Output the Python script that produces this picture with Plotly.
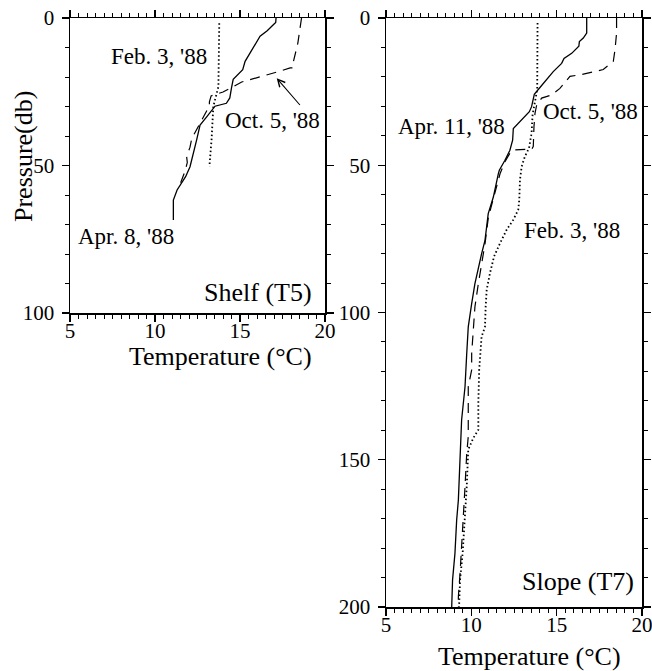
import plotly.graph_objects as go

# ---------------- data ----------------
# Shelf (T5)
shelf_apr_T = [17.12, 17.1, 16.96, 16.6, 16.18, 15.7, 15.3, 15.16, 14.85, 14.6, 14.5, 14.4, 14.2,
               13.53, 13.04, 12.65, 12.45, 12.2, 12.06, 11.8, 11.3, 11.08, 11.08]
shelf_apr_p = [0, 1.5, 2.3, 4.3, 6.2, 10.9, 14.7, 17.5, 19.5, 20.8, 23.7, 27.1, 28.9,
               29.9, 33.5, 36.3, 41.3, 46.9, 50.4, 53.8, 58.3, 61.7, 68.5]

shelf_oct_T = [18.62, 18.55, 18.4, 18.1, 18.1, 17.95, 17.25, 15.1, 14.0, 13.3, 13.2, 13.2,
               12.65, 12.16, 12.06, 11.86, 11.9, 11.76, 11.5]
shelf_oct_p = [0, 2.8, 8.6, 15.8, 16.9, 16.9, 18.2, 21.7, 25.1, 26.4, 28.4, 29.8,
               35.6, 40.9, 43.8, 47, 49, 52, 56]

shelf_feb_T = [13.78, 13.75, 13.73, 13.43, 13.33, 13.2]
shelf_feb_p = [1.8, 12, 23.3, 30, 41, 50.4]

# Slope (T7)
slope_apr_T = [16.76, 16.76, 16.56, 16.33, 16.3, 15.88, 15.43, 15.29, 14.8, 14.41, 14.02, 13.69,
               13.63, 13.53, 13.4, 12.95, 12.46, 12.42, 12.26, 11.97, 11.64, 11.58, 11.29, 10.99,
               10.8, 10.6, 10.41, 10.21, 10.02, 9.82, 9.73, 9.63, 9.43, 9.34, 9.24, 9.14, 9.04,
               8.9, 8.85]
slope_apr_p = [0, 5.1, 6.8, 8, 9.6, 12, 13.7, 15.4, 18.2, 21.1, 23.6, 25.9,
               27.8, 30.1, 31.8, 34.6, 37.5, 41.5, 44.9, 48.3, 51.7, 52.9, 60.8, 66.4,
               75.5, 80.1, 84.6, 90.2, 97, 104.9, 113.9, 125.2, 136.5, 150, 163.7, 170.5, 181.8,
               190.8, 200]

slope_oct_T = [18.51, 18.51, 18.42, 18.32, 17.73, 16.37, 15.78, 15.19, 14.71, 14.12, 13.83,
               13.73, 13.67, 13.63, 13.55, 12.46, 12.3, 11.97, 11.68, 11.38, 11.0, 10.8, 10.6,
               10.41, 10.21, 10.12, 10.12, 10.02, 10.02, 9.82, 9.82, 9.73, 9.63, 9.53, 9.43,
               9.34, 9.24, 9.24]
slope_oct_p = [0, 5.1, 10.7, 14.7, 17.5, 19.3, 19.8, 23.9, 26.1, 27.2, 29.5,
               32.4, 36.9, 43.6, 44.5, 44.8, 45.5, 48.8, 52.9, 59.8, 67.6, 76.7, 83.4,
               90.2, 98.1, 104.9, 108.2, 113.9, 119.5, 125.2, 142.1, 147.8, 159.1, 170.5, 179.5,
               188.5, 196.5, 200]

slope_feb_T = [13.88, 13.86, 13.59, 13.53, 13.38, 13.14, 12.95, 12.85, 12.81, 12.75, 12.46,
               12.07, 11.68, 11.33, 11.09, 10.9, 10.84, 10.8, 10.6, 10.46, 10.41, 10.41, 10.12,
               9.82, 9.73, 9.63, 9.49, 9.34, 9.28]
slope_feb_p = [1.7, 24.3, 32.8, 39.1, 44.2, 47, 50.4, 54.9, 61.7, 65.1, 68.5,
               71.9, 76.5, 81, 86.7, 92.3, 97.9, 104.9, 108.2, 119.5, 130.8, 139.8, 142.6,
               146.5, 159.1, 170.5, 181.8, 190.8, 200]

x_ticks = [5, 10, 15, 20]
shelf_y_ticks = [0, 50, 100]
slope_y_ticks = [0, 50, 100, 150, 200]

FONT = "Liberation Serif, Times New Roman, serif"
W, H = 652, 671


def px(x):
    return x / W


def py(y):
    return 1 - y / H


fig = go.Figure()


def add(T, p, style, xa, ya):
    if style == "solid":
        line = dict(color="black", width=1.3)
    elif style == "dash":
        line = dict(color="black", width=1.2, dash="10px,7px")
    else:
        line = dict(color="black", width=1.8, dash="1.5px,2.5px")
    fig.add_trace(go.Scatter(x=T, y=p, mode="lines", line=line, xaxis=xa, yaxis=ya,
                             showlegend=False, hoverinfo="skip"))


add(shelf_apr_T, shelf_apr_p, "solid", "x", "y")
add(shelf_oct_T, shelf_oct_p, "dash", "x", "y")
add(shelf_feb_T, shelf_feb_p, "dot", "x", "y")
add(slope_apr_T, slope_apr_p, "solid", "x2", "y2")
add(slope_oct_T, slope_oct_p, "dash", "x2", "y2")
add(slope_feb_T, slope_feb_p, "dot", "x2", "y2")

tickfont = dict(family=FONT, size=21, color="black")
common = dict(showline=True, linecolor="black", linewidth=1.5, mirror="ticks",
              ticks="outside", ticklen=7, tickwidth=1.2, tickcolor="black",
              showgrid=False, zeroline=False, tickfont=tickfont, automargin=False,
              ticklabeloverflow="allow", fixedrange=True)


def xax(domain, anchor):
    return dict(domain=domain, anchor=anchor, range=[5, 20], tickmode="array",
                tickvals=x_ticks, ticktext=[str(v) for v in x_ticks], ticklabelstandoff=-9,
                minor=dict(ticks="outside", tick0=5, dtick=0.5, ticklen=4, tickwidth=1,
                           tickcolor="black", showgrid=False), **common)


def yax(domain, anchor, rng, ticks):
    return dict(domain=domain, anchor=anchor, range=rng, tickmode="array",
                tickvals=ticks, ticktext=[str(v) for v in ticks], ticklabelstandoff=3,
                minor=dict(ticks="outside", tick0=0, dtick=10, ticklen=4, tickwidth=1,
                           tickcolor="black", showgrid=False), **common)


fig.update_layout(
    width=W, height=H,
    margin=dict(l=0, r=0, t=0, b=0),
    paper_bgcolor="white", plot_bgcolor="white",
    xaxis=xax([px(70), px(325)], "y"),
    yaxis=yax([py(313), py(18)], "x", [100, 0], shelf_y_ticks),
    xaxis2=xax([px(386), px(642)], "y2"),
    yaxis2=yax([py(607), py(18)], "x2", [200, 0], slope_y_ticks),
    font=dict(family=FONT, color="black"),
    hovermode=False,
)

ann_font = dict(family=FONT, size=23, color="black")
big_font = dict(family=FONT, size=26, color="black")

anns = [
    # shelf
    dict(x=13.2, y=13.2, xref="x", yref="y", text="Feb. 3, '88", xanchor="right", yanchor="middle",
         showarrow=False, font=ann_font),
    dict(x=19.85, y=34.6, xref="x", yref="y", text="Oct. 5, '88", xanchor="right", yanchor="middle",
         showarrow=False, font=ann_font),
    dict(x=5.35, y=74.2, xref="x", yref="y", text="Apr. 8, '88", xanchor="left", yanchor="middle",
         showarrow=False, font=ann_font),
    dict(x=19.35, y=93.2, xref="x", yref="y", text="Shelf (T5)", xanchor="right", yanchor="middle",
         showarrow=False, font=big_font),
    dict(x=17.16, y=20.4, xref="x", yref="y", ax=18.6, ay=30.0, axref="x", ayref="y",
         text="", showarrow=True, arrowhead=5, arrowsize=1.3, arrowwidth=1.1,
         arrowcolor="black", standoff=0),
    # slope
    dict(x=5.6, y=36.7, xref="x2", yref="y2", text="Apr. 11, '88", xanchor="left", yanchor="middle",
         showarrow=False, font=ann_font),
    dict(x=19.9, y=31.9, xref="x2", yref="y2", text="Oct. 5, '88", xanchor="right", yanchor="middle",
         showarrow=False, font=ann_font),
    dict(x=12.95, y=72, xref="x2", yref="y2", text="Feb. 3, '88", xanchor="left", yanchor="middle",
         showarrow=False, font=ann_font),
    dict(x=19.62, y=191.5, xref="x2", yref="y2", text="Slope (T7)", xanchor="right", yanchor="middle",
         showarrow=False, font=big_font),
    # axis titles
    dict(x=px(220), y=py(356), xref="paper", yref="paper", text="Temperature (°C)",
         xanchor="center", yanchor="middle", showarrow=False, font=big_font),
    dict(x=px(529.5), y=py(656), xref="paper", yref="paper", text="Temperature (°C)",
         xanchor="center", yanchor="middle", showarrow=False, font=big_font),
    dict(x=px(23), y=py(157), xref="paper", yref="paper", text="Pressure(db)", textangle=-90,
         xanchor="center", yanchor="middle", showarrow=False, font=big_font),
]
fig.update_layout(annotations=anns)

# remove the page's default body margin so the 652x671 figure fills the window exactly
fig.write_html("out.html", config={"displayModeBar": False, "staticPlot": True},
               post_script="document.body.style.margin='0px';document.body.style.overflow='hidden';")
